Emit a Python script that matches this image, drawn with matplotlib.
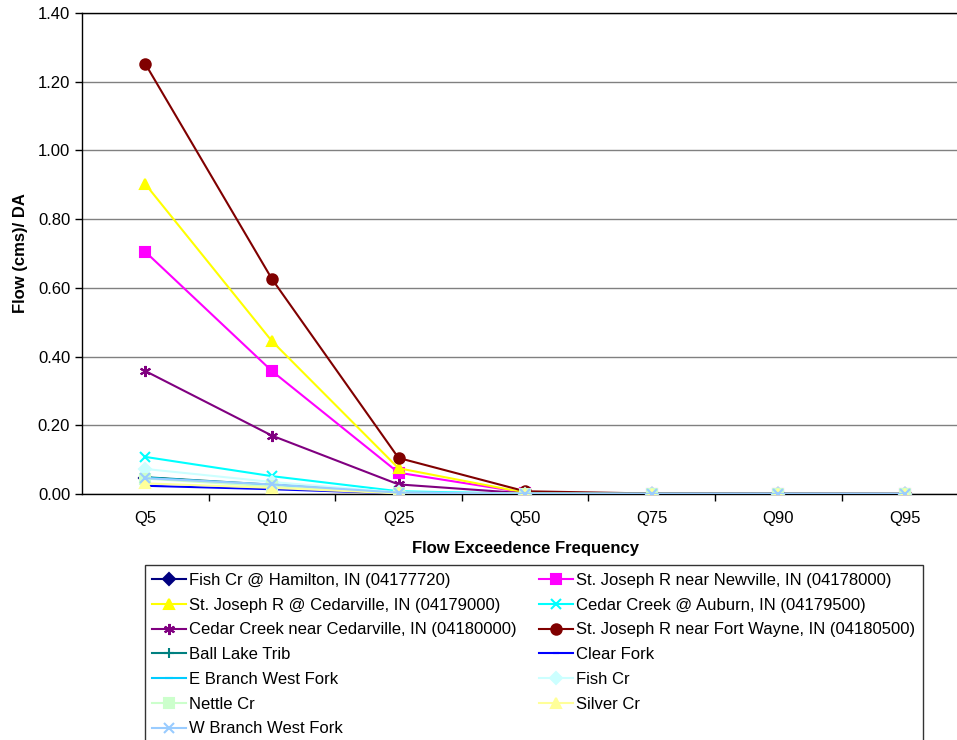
import numpy as np
import matplotlib.pyplot as plt
from matplotlib.ticker import FormatStrFormatter, FixedLocator

plt.rcParams['font.family'] = ['Liberation Sans', 'DejaVu Sans']

# exceedence frequencies along the x axis
categories = ["Q5", "Q10", "Q25", "Q50", "Q75", "Q90", "Q95"]

# flow per drainage area for each gauge / stream
fish_hamilton = [0.048, 0.025, 0.004, 0.001, 0.0005, 0.0003, 0.0002]
st_joe_newville = [0.705, 0.358, 0.062, 0.004, 0.0008, 0.0005, 0.0003]
st_joe_cedarville = [0.902, 0.445, 0.075, 0.004, 0.0008, 0.0005, 0.0003]
cedar_auburn = [0.108, 0.052, 0.008, 0.001, 0.0005, 0.0003, 0.0002]
cedar_cedarville = [0.358, 0.170, 0.028, 0.002, 0.0006, 0.0004, 0.0002]
st_joe_fort_wayne = [1.252, 0.626, 0.105, 0.008, 0.0015, 0.0008, 0.0005]
ball_lake = [0.049, 0.027, 0.004, 0.001, 0.0004, 0.0003, 0.0002]
clear_fork = [0.024, 0.014, 0.002, 0.0005, 0.0003, 0.0002, 0.0001]
e_branch = [0.047, 0.026, 0.004, 0.001, 0.0004, 0.0003, 0.0002]
fish_cr = [0.073, 0.035, 0.005, 0.001, 0.0004, 0.0003, 0.0002]
nettle_cr = [0.045, 0.022, 0.003, 0.001, 0.0004, 0.0003, 0.0002]
silver_cr = [0.031, 0.018, 0.002, 0.0005, 0.0003, 0.0002, 0.0001]
w_branch = [0.046, 0.028, 0.004, 0.001, 0.0004, 0.0003, 0.0002]

series = [
    ("Fish Cr @ Hamilton, IN (04177720)", fish_hamilton, "#000080", "D", 6),
    ("St. Joseph R near Newville, IN (04178000)", st_joe_newville, "#FF00FF", "s", 7),
    ("St. Joseph R @ Cedarville, IN (04179000)", st_joe_cedarville, "#FFFF00", "^", 7),
    ("Cedar Creek @ Auburn, IN (04179500)", cedar_auburn, "#00FFFF", "x", 7),
    ("Cedar Creek near Cedarville, IN (04180000)", cedar_cedarville, "#800080", (6, 2, 0), 8),
    ("St. Joseph R near Fort Wayne, IN (04180500)", st_joe_fort_wayne, "#800000", "o", 7.5),
    ("Ball Lake Trib", ball_lake, "#008080", "+", 7),
    ("Clear Fork", clear_fork, "#0000FF", "_", 5),
    ("E Branch West Fork", e_branch, "#00CCFF", "_", 6),
    ("Fish Cr", fish_cr, "#CCFFFF", "D", 6),
    ("Nettle Cr", nettle_cr, "#CCFFCC", "s", 7),
    ("Silver Cr", silver_cr, "#FFFF99", "^", 7),
    ("W Branch West Fork", w_branch, "#99CCFF", "x", 7),
]

fig = plt.figure(figsize=(9.57, 7.4), dpi=100)
ax = fig.add_axes([0.0857, 0.3324, 0.926, 0.65])

x = np.arange(len(categories))
handles = []
for label, vals, color, marker, ms in series:
    (h,) = ax.plot(x, vals, color=color, marker=marker, markersize=ms,
                   linewidth=1.5, markeredgewidth=1.5, label=label, zorder=3)
    handles.append(h)

ax.set_xlim(-0.5, len(categories) - 0.5)
ax.set_ylim(0, 1.4)
ax.set_yticks(np.arange(0, 1.41, 0.2))
ax.yaxis.set_major_formatter(FormatStrFormatter("%.2f"))
ax.grid(axis="y", color="#808080", linewidth=1.0, zorder=0)

# category labels centred, tick marks between categories
ax.set_xticks(x)
ax.set_xticklabels(categories)
ax.xaxis.set_minor_locator(FixedLocator(np.arange(0.5, len(categories) - 0.5, 1)))
ax.tick_params(axis="x", which="major", length=0, pad=12, labelsize=12)
ax.tick_params(axis="x", which="minor", length=5, direction="out", width=1)
ax.tick_params(axis="y", length=5, direction="out", width=1, labelsize=12)

ax.spines["right"].set_visible(False)
for s in ("left", "bottom", "top"):
    ax.spines[s].set_color("black")
    ax.spines[s].set_linewidth(1.0)

ax.set_ylabel("Flow (cms)/ DA", fontweight="bold", fontsize=12, labelpad=7)
ax.set_xlabel("Flow Exceedence Frequency", fontweight="bold", fontsize=12, labelpad=11)

# legend is filled row by row, two columns
order = list(range(0, 13, 2)) + list(range(1, 13, 2))
leg = fig.legend([handles[i] for i in order], [series[i][0] for i in order],
                 ncol=2, loc="upper left", bbox_to_anchor=(0.1515, 0.236),
                 fontsize=12, frameon=True, fancybox=False, edgecolor="black",
                 borderpad=0.45, labelspacing=0.585, handlelength=2.0,
                 handletextpad=0.2, columnspacing=1.35, borderaxespad=0)
leg.get_frame().set_linewidth(1.0)

fig.savefig("out.png", dpi=100)
